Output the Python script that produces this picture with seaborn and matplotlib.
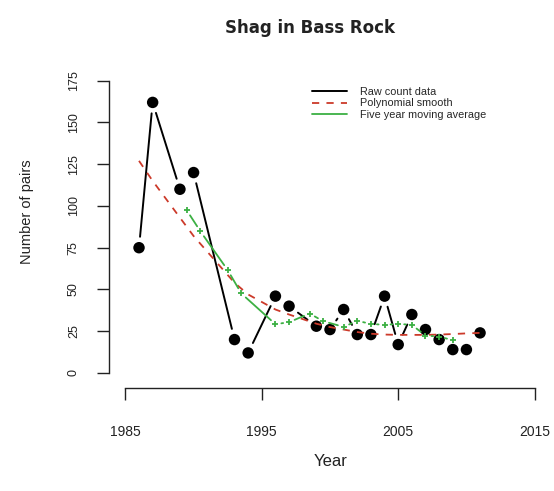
import numpy as np
import pandas as pd
import matplotlib
matplotlib.use("Agg")
import matplotlib.pyplot as plt
from matplotlib.lines import Line2D
import seaborn as sns

# raw counts
years = [1986, 1987, 1989, 1990, 1993, 1994, 1996, 1997, 1999, 2000, 2001,
         2002, 2003, 2004, 2005, 2006, 2007, 2008, 2009, 2010, 2011]
pairs = [75, 162, 110, 120, 20, 12, 46, 40, 28, 26, 38,
         23, 23, 46, 17, 35, 26, 20, 14, 14, 24]

# polynomial smooth at the same years
smooth = [127, 115, 93, 82, 54, 47, 38, 35, 29.5, 27.5, 26,
          24.5, 23.5, 23, 22.8, 22.8, 22.8, 23, 23.3, 23.7, 24]

# five year moving average
ma_years = [1989.5, 1990.5, 1992.5, 1993.5, 1996, 1997, 1998.5, 1999.5, 2001,
            2002, 2003, 2004, 2005, 2006, 2007, 2008, 2009]
ma_pairs = [97.4, 84.8, 61.6, 47.6, 29.2, 30.4, 35.6, 31.0, 27.6,
            31.2, 29.4, 28.8, 29.4, 28.8, 22.4, 21.8, 19.6]

y_ticks = [0, 25, 50, 75, 100, 125, 150, 175]
x_ticks = [1985, 1995, 2005, 2015]

GREEN = "#3cb043"
RED = "#cc3a2a"

sns.set_style("ticks")
plt.rcParams["font.family"] = ["Liberation Sans", "DejaVu Sans"]


def gapped(ax, xs, ys, gap):
    # R type="b": segments stop short of each point
    pts = ax.transData.transform(np.column_stack([xs, ys]))
    inv = ax.transData.inverted()
    rows = []
    for i in range(len(pts) - 1):
        p, q = pts[i], pts[i + 1]
        d = q - p
        L = np.hypot(*d)
        if L <= 2 * gap:
            continue
        u = d / L
        a = inv.transform(p + u * gap)
        b = inv.transform(q - u * gap)
        rows += [(i, a[0], a[1]), (i, b[0], b[1])]
    return pd.DataFrame(rows, columns=["seg", "x", "y"])


fig = plt.figure(figsize=(5.54, 4.91), dpi=100)
ax = fig.add_axes([109 / 554, 1 - 388 / 491, 442 / 554, 319 / 491])
ax.set_xlim(1983.8, 2016.2)
ax.set_ylim(-9, 182)

raw_seg = gapped(ax, years, pairs, 11)
sns.lineplot(data=raw_seg, x="x", y="y", units="seg", estimator=None,
             color="black", lw=1.4, ax=ax, sort=False)
sns.scatterplot(x=years, y=pairs, color="black", s=68, edgecolor="none",
                ax=ax, zorder=3)

sns.lineplot(x=years, y=smooth, color=RED, lw=1.3, ax=ax, sort=False,
             zorder=4, dashes=False, linestyle=(0, (4, 4)))

ma_seg = gapped(ax, ma_years, ma_pairs, 6)
sns.lineplot(data=ma_seg, x="x", y="y", units="seg", estimator=None,
             color=GREEN, lw=1.3, ax=ax, sort=False, zorder=5)
sns.scatterplot(x=ma_years, y=ma_pairs, color=GREEN, marker="+", s=18,
                linewidth=1.3, ax=ax, zorder=5)

ax.set_xlim(1983.8, 2016.2)
ax.set_ylim(-9, 182)
ax.set_xticks(x_ticks)
ax.set_xticklabels([str(t) for t in x_ticks], fontsize=10)
ax.set_yticks(y_ticks)
ax.set_yticklabels([str(t) for t in y_ticks], fontsize=9, rotation=90,
                   va="center")
ax.tick_params(axis="x", length=8.6, width=1, pad=18, colors="#222222")
ax.tick_params(axis="y", length=9, width=1, pad=12, colors="#222222")

sns.despine(ax=ax)
ax.spines["left"].set_bounds(0, 175)
ax.spines["bottom"].set_bounds(1985, 2015)
for s in ("left", "bottom"):
    ax.spines[s].set_linewidth(1)
    ax.spines[s].set_color("#222222")

ax.set_xlabel("Year", fontsize=12, color="#222222")
ax.set_ylabel("Number of pairs", fontsize=10.5, color="#222222")
ax.xaxis.set_label_coords(0.502, -0.207)
ax.yaxis.set_label_coords(-0.17, 0.552)

fig.text(310 / 554, 1 - 28 / 491, "Shag in Bass Rock", ha="center",
         va="center", fontsize=12, fontweight="bold", color="#222222",
         family="DejaVu Sans")

handles = [
    Line2D([], [], color="black", lw=1.4),
    Line2D([], [], color=RED, lw=1.3, linestyle=(0, (4, 4))),
    Line2D([], [], color=GREEN, lw=1.3),
]
labels = ["Raw count data", "Polynomial smooth", "Five year moving average"]
ax.legend(handles, labels, loc="upper left",
          bbox_to_anchor=(312 / 554, 1 - 87 / 491),
          bbox_transform=fig.transFigure, frameon=False, fontsize=7.8,
          handlelength=3.2, handletextpad=1.2, labelspacing=0.12,
          borderpad=0, borderaxespad=0)

fig.savefig("out.png", dpi=100)
